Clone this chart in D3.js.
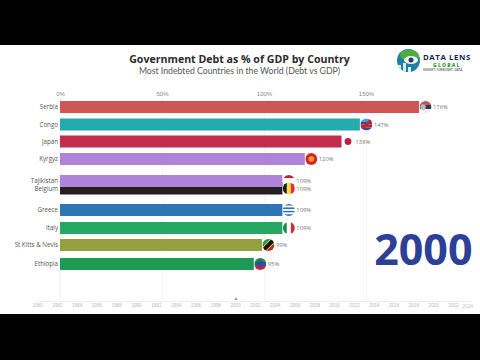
<!DOCTYPE html>
<html lang="en">
  <head>
    <meta charset="utf-8">
    <script src="https://cdn.jsdelivr.net/npm/d3@7"></script>
    <style>
      body { margin: 0px; background: #000; }
      svg { display: block; font-family: "Open Sans", sans-serif; }
      .domain { display: none; }
    </style>
  </head>
  <body>
  <svg width="480" height="360"></svg>
  <script>
    // values
    var countries = ['Serbia', 'Congo', 'Japan', 'Kyrgyz', 'Tajikistan', 'Belgium', 'Greece', 'Italy', 'St Kitts & Nevis', 'Ethiopia'];
    var debt = [176, 147, 138, 120, 109, 109, 109, 109, 99, 95];
    var debtTicks = [0, 50, 100, 150];
    var years = [1980, 1982, 1984, 1986, 1988, 1990, 1992, 1994, 1996, 1998, 2000, 2002, 2004, 2006, 2008, 2010, 2012, 2014, 2016, 2018, 2020, 2022, 2024];
    var currentYear = 2000;

    // bar colours, same order as countries
    var barColors = ['#cf5657', '#25aab0', '#c42c4e', '#b183d8', '#b183d8', '#231f20', '#2f74b5', '#27a862', '#95a13f', '#1f9a52'];

    // bars are caught mid-swap in the frame, so the rows are not evenly spaced
    var rowCenter = d3.scaleOrdinal().domain(countries)
      .range([107, 124.5, 141.5, 159, 181, 188.5, 210, 228, 245, 264]);
    var barHeight = 12;

    // flags as stacked bands inside a circle
    var flagBands = {
      'Serbia': ['#c6565c', '#2c3a5e', '#eeeeee'],
      'Congo': ['#3aa6e0', '#2b4fa0', '#c8232c', '#2b4fa0'],
      'Japan': ['#ffffff'],
      'Kyrgyz': ['#d8232a'],
      'Tajikistan': ['#cc2229', '#ffffff', '#ffffff', '#1c8a42'],
      'Belgium': ['#1a1a1a', '#fae042', '#ed2939'],
      'Greece': ['#2f6fb5', '#ffffff', '#2f6fb5', '#ffffff', '#2f6fb5', '#ffffff', '#2f6fb5'],
      'Italy': ['#1c8a52', '#ffffff', '#c8303a'],
      'St Kitts & Nevis': ['#1c9a4c', '#c8232c'],
      'Ethiopia': ['#1c8a42', '#3a4f96', '#c8232c']
    };
    var verticalFlags = ['Belgium', 'Italy'];

    var svg = d3.select('svg');

    svg.append('rect').attr('y', 45).attr('width', 480).attr('height', 269).attr('fill', '#fff');

    // titles
    svg.append('text').attr('x', 239.5).attr('y', 63).attr('text-anchor', 'middle')
      .attr('font-size', 10.6).attr('font-weight', 700).attr('fill', '#2b2b2b')
      .text('Government Debt as % of GDP by Country');
    svg.append('text').attr('x', 239.5).attr('y', 73.5).attr('text-anchor', 'middle')
      .attr('font-family', 'Lato').attr('font-size', 8.7).attr('fill', '#555')
      .text('Most Indebted Countries in the World (Debt vs GDP)');

    // value axis on top
    var x = d3.scaleLinear().domain([0, 150]).range([60, 366]);
    var xAxis = d3.axisTop(x)
      .tickValues(debtTicks)
      .tickFormat(function(d) { return d + '%'; })
      .tickSize(-205)
      .tickPadding(1);
    var xAxisG = svg.append('g').attr('transform', 'translate(0,97)').call(xAxis);
    xAxisG.selectAll('.tick line').attr('stroke', '#f4f4f4');
    xAxisG.selectAll('.tick text').attr('font-size', 6).attr('fill', '#888');

    // bars
    var rows = countries.map(function(c, i) {
      return { name: c, value: debt[i], color: barColors[i] };
    });

    // reversed so Tajikistan lies over Belgium, as in the frame
    svg.append('g').selectAll('rect').data(rows.slice().reverse()).enter().append('rect')
      .attr('x', x(0))
      .attr('y', function(d) { return rowCenter(d.name) - barHeight / 2; })
      .attr('width', function(d) { return x(d.value) - x(0); })
      .attr('height', barHeight)
      .attr('fill', function(d) { return d.color; });

    // country names
    svg.append('g').selectAll('text').data(rows).enter().append('text')
      .attr('x', 58)
      .attr('y', function(d) { return rowCenter(d.name) + 2; })
      .attr('text-anchor', 'end')
      .attr('font-size', 6.2)
      .attr('fill', '#555')
      .text(function(d) { return d.name; });

    // flags
    var defs = svg.append('defs');
    var flagR = 6;
    rows.forEach(function(d, i) {
      var cx = x(d.value) + 6.5;
      var cy = rowCenter(d.name);
      defs.append('clipPath').attr('id', 'flag' + i)
        .append('circle').attr('cx', cx).attr('cy', cy).attr('r', flagR);
      var g = svg.append('g').attr('clip-path', 'url(#flag' + i + ')');
      var bands = flagBands[d.name];
      var step = flagR * 2 / bands.length;
      var vertical = verticalFlags.indexOf(d.name) >= 0;
      bands.forEach(function(color, j) {
        g.append('rect')
          .attr('x', vertical ? cx - flagR + j * step : cx - flagR)
          .attr('y', vertical ? cy - flagR : cy - flagR + j * step)
          .attr('width', vertical ? step : flagR * 2)
          .attr('height', vertical ? flagR * 2 : step)
          .attr('fill', color);
      });
      if (d.name === 'Serbia') {
        g.append('circle').attr('cx', cx - 2.5).attr('cy', cy).attr('r', 2.8).attr('fill', '#b9b9b9');
      }
      if (d.name === 'Japan') {
        g.append('circle').attr('cx', cx).attr('cy', cy).attr('r', 3.4).attr('fill', '#bc1f45');
      }
      if (d.name === 'Kyrgyz') {
        g.append('circle').attr('cx', cx).attr('cy', cy).attr('r', 2.8).attr('fill', '#f5a623');
      }
      if (d.name === 'Congo' || d.name === 'St Kitts & Nevis') {
        var diagonal = g.append('line').attr('x1', cx - flagR).attr('y1', cy + flagR)
          .attr('x2', cx + flagR).attr('y2', cy - flagR);
        if (d.name === 'Congo') {
          diagonal.attr('stroke', '#c8232c').attr('stroke-width', 3);
        } else {
          diagonal.attr('stroke', '#fae042').attr('stroke-width', 5.5);
          g.append('line').attr('x1', cx - flagR).attr('y1', cy + flagR)
            .attr('x2', cx + flagR).attr('y2', cy - flagR)
            .attr('stroke', '#111').attr('stroke-width', 4);
        }
      }
      if (d.name === 'Ethiopia') {
        g.append('circle').attr('cx', cx).attr('cy', cy).attr('r', 3).attr('fill', '#2b4fa0');
      }
    });

    // value labels
    svg.append('g').selectAll('text').data(rows).enter().append('text')
      .attr('x', function(d) { return x(d.value) + 14; })
      .attr('y', function(d) { return rowCenter(d.name) + 2; })
      .attr('font-size', 5.8)
      .attr('fill', '#777')
      .text(function(d) { return d.value + '%'; });

    // current year
    svg.append('text').attr('x', 472.5).attr('y', 265).attr('text-anchor', 'end')
      .attr('font-size', 43).attr('font-weight', 700).attr('fill', '#2e3f97')
      .text(currentYear);

    // year timeline
    var t = d3.scaleLinear().domain([1980, 2022]).range([37, 453]);
    var tAxis = d3.axisBottom(t)
      .tickValues(years.slice(0, -1))
      .tickFormat(d3.format('d'))
      .tickSize(0)
      .tickPadding(3);
    var tAxisG = svg.append('g').attr('transform', 'translate(0,301)').call(tAxis);
    tAxisG.selectAll('.tick text').attr('font-size', 4.6).attr('fill', '#bbb');
    svg.append('line').attr('x1', 36).attr('x2', 472).attr('y1', 301.5).attr('y2', 301.5)
      .attr('stroke', '#eee');
    svg.append('text').attr('x', 473).attr('y', 308).attr('text-anchor', 'end')
      .attr('font-size', 4.6).attr('fill', '#bbb').text(years[years.length - 1]);
    svg.append('text').attr('x', t(currentYear) + 1).attr('y', 300).attr('text-anchor', 'middle')
      .attr('font-size', 5).attr('fill', '#999').text('▲');

    // logo
    var logo = svg.append('g');
    defs.append('clipPath').attr('id', 'logoClip')
      .append('circle').attr('cx', 408.5).attr('cy', 60.5).attr('r', 11.5);
    var globe = logo.append('g').attr('clip-path', 'url(#logoClip)');
    globe.append('rect').attr('x', 396).attr('y', 48).attr('width', 25).attr('height', 25).attr('fill', '#1d7fa8');
    globe.append('ellipse').attr('cx', 410).attr('cy', 55).attr('rx', 10).attr('ry', 5.5).attr('fill', '#4fae3f');
    globe.append('ellipse').attr('cx', 411).attr('cy', 60).attr('rx', 7).attr('ry', 4).attr('fill', '#f4f4e8');
    globe.append('circle').attr('cx', 411).attr('cy', 60).attr('r', 2.5).attr('fill', '#1d3f73');
    globe.append('rect').attr('x', 398).attr('y', 65).attr('width', 3).attr('height', 8).attr('fill', '#dfeef5');
    globe.append('rect').attr('x', 403).attr('y', 63).attr('width', 3).attr('height', 10).attr('fill', '#dfeef5');
    globe.append('rect').attr('x', 408).attr('y', 67).attr('width', 3).attr('height', 6).attr('fill', '#dfeef5');
    logo.append('text').attr('x', 423).attr('y', 59.5).attr('font-size', 7.8).attr('font-weight', 700)
      .attr('letter-spacing', 0.6).attr('fill', '#14284f').text('DATA LENS');
    logo.append('text').attr('x', 433).attr('y', 66.5).attr('font-size', 5).attr('font-weight', 800)
      .attr('fill', '#3f9a35').attr('letter-spacing', 1.2).text('GLOBAL');
    logo.append('text').attr('x', 423).attr('y', 71).attr('font-size', 3).attr('font-weight', 600)
      .attr('fill', '#555').text('INSIGHT. FORESIGHT. DATA');
  </script>
  </body>
</html>
